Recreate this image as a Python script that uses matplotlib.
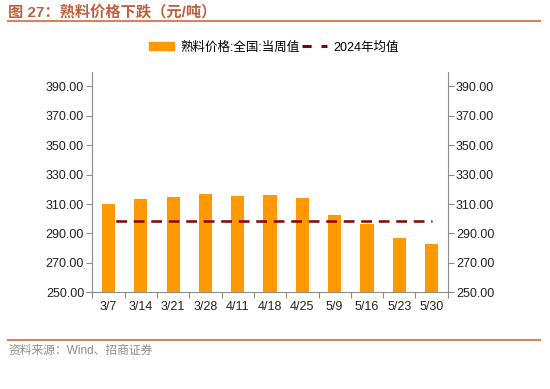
import matplotlib
matplotlib.use("Agg")
import matplotlib.pyplot as plt
from matplotlib.lines import Line2D
from matplotlib.patches import Patch
from matplotlib.ticker import FixedLocator, FormatStrFormatter

plt.rcParams['font.family'] = ['Liberation Sans', 'Noto Sans CJK SC', 'DejaVu Sans']

# 数据
weeks = ['3/7', '3/14', '3/21', '3/28', '4/11', '4/18', '4/25', '5/9', '5/16', '5/23', '5/30']
price = [310.3, 313.7, 314.8, 316.6, 315.2, 316.1, 314.4, 302.4, 296.3, 286.8, 282.7]
avg_2024 = 298.5
yticks = [250, 270, 290, 310, 330, 350, 370, 390]

bar_color = '#FF9900'
avg_color = '#8B0000'
axis_color = '#8C8C8C'
accent = '#D9825F'

fig = plt.figure(figsize=(5.5, 3.89), dpi=100)
ax = fig.add_axes([0.168, 0.2486, 0.646, 0.567])

x = list(range(len(weeks)))
ax.bar(x, price, width=0.41, color=bar_color, zorder=2)
ax.plot(x, [avg_2024] * len(x), color=avg_color, lw=1.8,
        linestyle=(4.3, (4.3, 2.7)), zorder=3)

ax.set_xlim(-0.5, len(weeks) - 0.5)
ax.set_ylim(250, 400)

# x轴：刻度线在类别之间，标签在中间
ax.xaxis.set_major_locator(FixedLocator([i - 0.5 for i in range(len(weeks) + 1)]))
ax.xaxis.set_minor_locator(FixedLocator(x))
ax.set_xticklabels([], minor=False)
ax.set_xticklabels(weeks, minor=True)
ax.tick_params(axis='x', which='major', length=4, color=axis_color, direction='out')
ax.tick_params(axis='x', which='minor', length=0, pad=6, labelsize=9, labelcolor='#222222')

ax.set_yticks(yticks)
ax.yaxis.set_major_formatter(FormatStrFormatter('%.2f'))
ax.tick_params(axis='y', length=4, color=axis_color, labelsize=9, labelcolor='#222222', pad=2)

for s in ['top', 'right']:
    ax.spines[s].set_visible(False)
for s in ['left', 'bottom']:
    ax.spines[s].set_color(axis_color)

ax2 = ax.twinx()
ax2.set_ylim(250, 400)
ax2.set_yticks(yticks)
ax2.yaxis.set_major_formatter(FormatStrFormatter('%.2f'))
ax2.tick_params(axis='y', length=4, color=axis_color, labelsize=9, labelcolor='#222222', pad=2)
for s in ['top', 'left', 'bottom']:
    ax2.spines[s].set_visible(False)
ax2.spines['right'].set_color(axis_color)

# 图例
handles = [Patch(color=bar_color),
           Line2D([0], [0], color=avg_color, lw=2.2, linestyle=(0, (3.0, 3.2)))]
fig.legend(handles, ['熟料价格:全国:当周值', '2024年均值'], loc='center',
           bbox_to_anchor=(0.498, 0.878), ncol=2, frameon=False, fontsize=9,
           handlelength=2.0, handleheight=0.6, handletextpad=0.5, columnspacing=0.2)

# 标题与来源
fig.text(0.015, 0.968, '图 27：熟料价格下跌（元/吨）', fontsize=11, fontweight='bold',
         color='#C0603E', va='center', ha='left')
fig.add_artist(Line2D([0.0145, 0.982], [0.945, 0.945], color=accent, lw=1.5))
fig.add_artist(Line2D([0.0145, 0.982], [0.126, 0.126], color=accent, lw=1.5))
fig.text(0.015, 0.099, '资料来源：Wind、招商证券', fontsize=8.5, color='#8C8C8C',
         va='center', ha='left')

fig.savefig('out.png', dpi=100)
